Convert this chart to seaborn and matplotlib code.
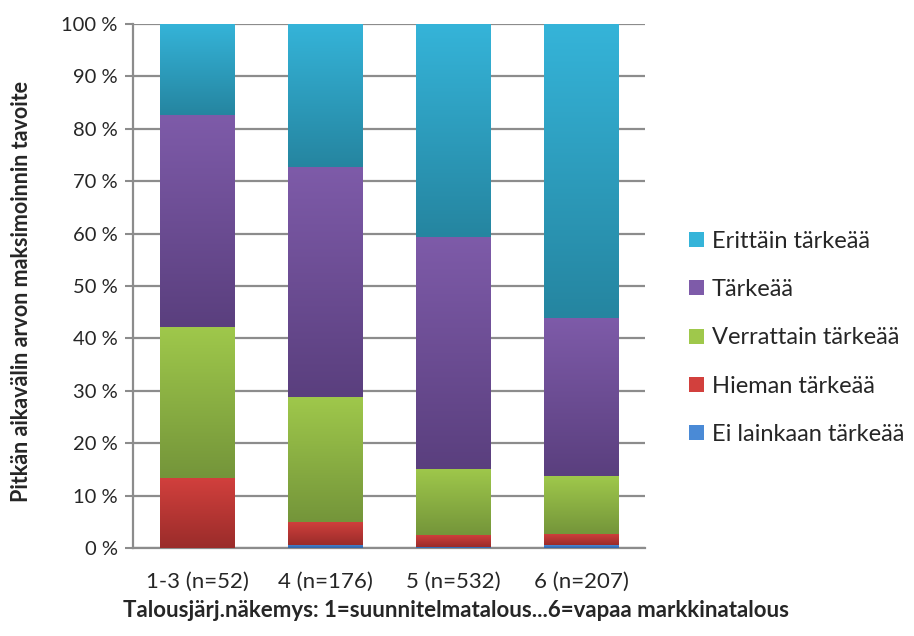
import numpy as np
import pandas as pd
import matplotlib
matplotlib.use("Agg")
import matplotlib.pyplot as plt
from matplotlib.colors import LinearSegmentedColormap
from matplotlib.patches import Patch
import seaborn as sns

categories = ['1-3 (n=52)', '4 (n=176)', '5 (n=532)', '6 (n=207)']
series = ['Ei lainkaan tärkeää', 'Hieman tärkeää', 'Verrattain tärkeää', 'Tärkeää', 'Erittäin tärkeää']
ei_lainkaan = [0.0, 0.6, 0.2, 0.5]
hieman = [13.4, 4.4, 2.3, 2.2]
verrattain = [28.8, 23.8, 12.6, 11.0]
tarkea = [40.4, 43.9, 44.3, 30.2]
erittain = [17.4, 27.3, 40.6, 56.1]

# (top colour, bottom colour) for each series
grad = {
    'Ei lainkaan tärkeää': ('#4a8ad6', '#2f62a6'),
    'Hieman tärkeää': ('#d2403d', '#9a2c2a'),
    'Verrattain tärkeää': ('#9fc84b', '#74953a'),
    'Tärkeää': ('#7e5ba9', '#5a3f7e'),
    'Erittäin tärkeää': ('#35b4d9', '#2585a0'),
}

vals = [ei_lainkaan, hieman, verrattain, tarkea, erittain]
df = pd.DataFrame({s: v for s, v in zip(series, vals)}, index=categories)
cum = df.cumsum(axis=1)

sns.set_style('white')
plt.rcParams['font.family'] = ['Lato', 'DejaVu Sans']

fig = plt.figure(figsize=(9.14, 6.36), dpi=100)
ax = fig.add_axes([0.1455, 0.1384, 0.5602, 0.8239])

# stacked bars, tallest cumulative first
for s in reversed(series):
    sns.barplot(x=categories, y=cum[s].values, color=grad[s][0], width=0.58,
                ax=ax, zorder=3, saturation=1)

# gradient fill per segment (Excel look)
grad_img = np.linspace(0, 1, 256).reshape(-1, 1)
bars = ax.patches[:len(categories)]
for i, b in enumerate(bars):
    x0 = b.get_x()
    x1 = x0 + b.get_width()
    bottom = 0.0
    for s in series:
        top = cum[s].iloc[i]
        if top - bottom > 0:
            cmap = LinearSegmentedColormap.from_list(s, [grad[s][1], grad[s][0]])
            ax.imshow(grad_img, cmap=cmap, extent=(x0, x1, bottom, top),
                      origin='lower', aspect='auto', zorder=4)
        bottom = top
for p in ax.patches:
    p.set_visible(False)
ax.set_xlim(-0.5, len(categories) - 0.5)
ax.set_ylim(0, 100)

ax.set_yticks(range(0, 101, 10))
ax.set_yticklabels([f'{t} %' for t in range(0, 101, 10)], fontsize=14.5)
ax.tick_params(axis='y', length=6, width=1.5, color='#8c8c8c', pad=5, left=True)
ax.tick_params(axis='x', length=0, pad=17, labelsize=16)
ax.yaxis.grid(True, color='#8c8c8c', linewidth=1.6, zorder=0)
ax.set_axisbelow(True)
for side in ['top', 'right']:
    ax.spines[side].set_visible(False)
for side in ['left', 'bottom']:
    ax.spines[side].set_color('#8c8c8c')
    ax.spines[side].set_linewidth(1.6)

ax.set_ylabel('Pitkän aikavälin arvon maksimoinnin tavoite', fontsize=15.5,
              fontweight='bold')
ax.yaxis.set_label_coords(-0.197, 0.49)
fig.text(0.499, 0.04,
         'Talousjärj.näkemys: 1=suunnitelmatalous...6=vapaa markkinatalous',
         fontsize=16, fontweight='bold', ha='center', va='center')

handles = [Patch(facecolor=grad[s][0], edgecolor='none') for s in reversed(series)]
fig.legend(handles, list(reversed(series)), loc='upper left',
           bbox_to_anchor=(0.731, 0.67), frameon=False, fontsize=17,
           handlelength=0.6, handleheight=0.6, handletextpad=0.35,
           labelspacing=1.15)

fig.savefig('out.png', dpi=100)
